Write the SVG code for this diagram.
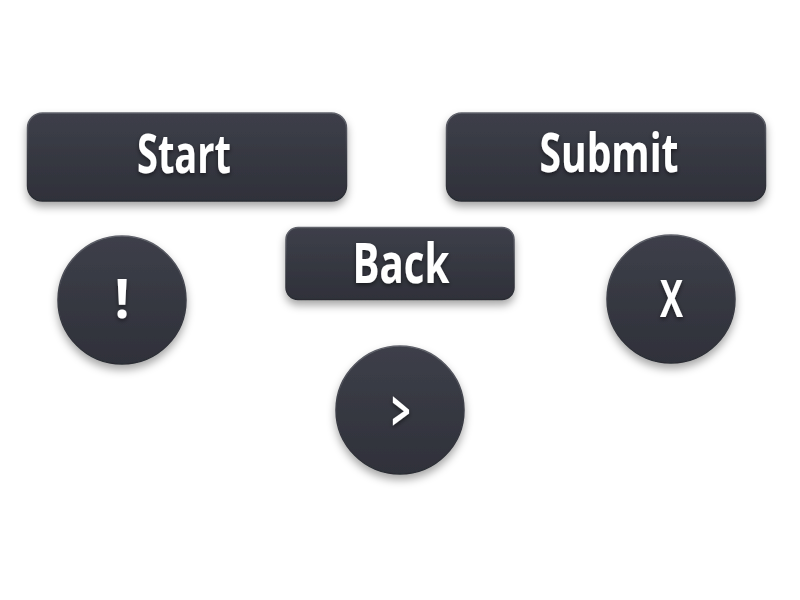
<svg xmlns="http://www.w3.org/2000/svg" width="800" height="600" viewBox="0 0 800 600">
<defs>
<linearGradient id="g" x1="0" y1="0" x2="0" y2="1">
<stop offset="0" stop-color="#3d3f49"/>
<stop offset="1" stop-color="#2f313a"/>
</linearGradient>
<linearGradient id="edge" x1="0" y1="0" x2="0" y2="1">
<stop offset="0" stop-color="#60626b"/>
<stop offset="0.5" stop-color="#3a3c45"/>
<stop offset="1" stop-color="#2a2c33"/>
</linearGradient>
<filter id="sh" x="-20%" y="-30%" width="140%" height="170%">
<feDropShadow dx="0" dy="5" stdDeviation="4" flood-color="#000" flood-opacity="0.35"/>
</filter>
<filter id="tsh" x="-20%" y="-30%" width="140%" height="170%">
<feDropShadow dx="0" dy="2" stdDeviation="2" flood-color="#000" flood-opacity="0.5"/>
</filter>
</defs>
<style>
.b{fill:url(#g);stroke:url(#edge);stroke-width:1.5;filter:url(#sh)}
.t{font-family:"Open Sans","Noto Sans","DejaVu Sans",sans-serif;font-weight:700;fill:#ffffff;text-anchor:middle;filter:url(#tsh)}
</style>
<rect width="800" height="600" fill="#ffffff"/>
<g id="start">
<rect class="b" x="27.5" y="113" width="319" height="88" rx="15"/>
<text class="t" x="184" y="173" font-size="53" textLength="94" lengthAdjust="spacingAndGlyphs">Start</text>
</g>
<g id="submit">
<rect class="b" x="446.5" y="113" width="319" height="88" rx="15"/>
<text class="t" x="609" y="172" font-size="53" textLength="139" lengthAdjust="spacingAndGlyphs">Submit</text>
</g>
<g id="back">
<rect class="b" x="286" y="227.5" width="228" height="72" rx="12"/>
<text class="t" x="401" y="283" font-size="55" textLength="97" lengthAdjust="spacingAndGlyphs">Back</text>
</g>
<g id="alert">
<circle class="b" cx="122" cy="300" r="64"/>
<text class="t" x="122" y="318" font-size="53">!</text>
</g>
<g id="close">
<circle class="b" cx="671" cy="299" r="64"/>
<text class="t" x="671.5" y="317" font-size="52" textLength="23" lengthAdjust="spacingAndGlyphs">X</text>
</g>
<g id="next">
<circle class="b" cx="400" cy="410" r="64"/>
<text class="t" x="401" y="431" font-size="56" font-weight="800" textLength="19" lengthAdjust="spacingAndGlyphs">&gt;</text>
</g>
<g id="connectors"/>
</svg>
